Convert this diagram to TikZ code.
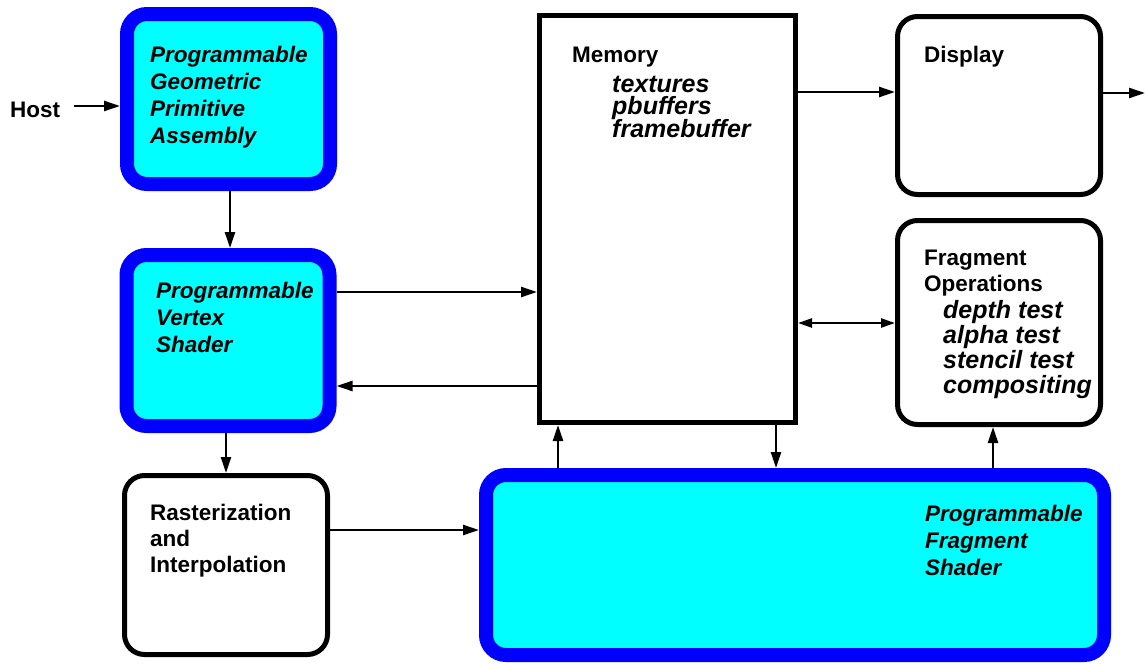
\documentclass[tikz,border=0pt]{standalone}
\usepackage{fontspec}
\setmainfont{Liberation Sans}
\usetikzlibrary{arrows.meta}
\definecolor{cy}{RGB}{0,255,255}
\definecolor{bl}{RGB}{0,0,255}
\begin{document}
\begin{tikzpicture}[x=1pt,y=-1pt,
  blubox/.style={draw=bl, fill=cy, line width=14pt, rounded corners=20pt, inner sep=0pt},
  blkbox/.style={draw=black, fill=white, line width=5pt, rounded corners=20pt, inner sep=0pt},
  membox/.style={draw=black, fill=white, line width=5pt, inner sep=0pt},
  arr/.style={-{Triangle[length=16pt,width=10pt]}, line width=2.4pt},
  darr/.style={{Triangle[length=14pt,width=9pt]}-{Triangle[length=14pt,width=9pt]}, line width=2.4pt},
  lb/.style={anchor=base west, inner sep=0pt, font=\fontsize{22.5}{27}\selectfont\bfseries},
  li/.style={anchor=base west, inner sep=0pt, font=\fontsize{22.5}{27}\selectfont\bfseries\itshape},
  ls/.style={anchor=base west, inner sep=0pt, font=\fontsize{25}{25}\selectfont\bfseries\itshape}]
\useasboundingbox (0,0) rectangle (1145,664);

% boxes
\node[blubox, minimum width=203pt, minimum height=170pt] (pgpa) at (228.5,99) {};
\node[blubox, minimum width=203pt, minimum height=171pt] (pvs) at (228,340.5) {};
\node[blkbox, minimum width=203pt, minimum height=179pt] (rast) at (226,565) {};
\node[membox, minimum width=256pt, minimum height=407pt] (mem) at (667.5,219) {};
\node[blkbox, minimum width=203pt, minimum height=178pt] (disp) at (999,105.5) {};
\node[blkbox, minimum width=203pt, minimum height=204pt] (frag) at (999,322.5) {};
\node[blubox, minimum width=618pt, minimum height=180pt] (pfs) at (795,565) {};

% texts
\node[lb] (host) at (10,117) {Host};

\node[li] (g1) at (150,62) {Programmable};
\node[li] (g2) at (150,89) {Geometric};
\node[li] (g3) at (150,116) {Primitive};
\node[li] (g4) at (150,143) {Assembly};

\node[li] (v1) at (156,298) {Programmable};
\node[li] (v2) at (156,325) {Vertex};
\node[li] (v3) at (156,352) {Shader};

\node[lb] (r1) at (150,520) {Rasterization};
\node[lb] (r2) at (150,546) {and};
\node[lb] (r3) at (150,572) {Interpolation};

\node[lb] (m0) at (572,62) {Memory};
\node[ls] (m1) at (612,92) {textures};
\node[ls] (m2) at (612,114.5) {pbuffers};
\node[ls] (m3) at (612,137) {framebuffer};

\node[lb] (d0) at (924,62) {Display};

\node[lb] (f1) at (924,265) {Fragment};
\node[lb] (f2) at (924,291) {Operations};
\node[ls] (f3) at (943,318) {depth test};
\node[ls] (f4) at (943,343) {alpha test};
\node[ls] (f5) at (943,368) {stencil test};
\node[ls] (f6) at (943,393) {compositing};

\node[li] (p1) at (925,521) {Programmable};
\node[li] (p2) at (925,548) {Fragment};
\node[li] (p3) at (925,575) {Shader};

% connectors
\coordinate (hs) at (74,106);
\coordinate (dout) at (1145,93);
\draw[arr] (hs) -- (hs -| pgpa.west);
\draw[arr] (pgpa.south -| 230,0) -- (pvs.north -| 230,0);
\draw[arr] (pvs.south -| rast.north) -- (rast.north);
\draw[arr] (pvs.east |- 0,292) -- (mem.west |- 0,292);
\draw[arr] (mem.west |- 0,386) -- (pvs.east |- 0,386);
\draw[arr] (mem.east |- 0,92) -- (disp.west |- 0,92);
\draw[arr] (disp.east |- dout) -- (dout);
\draw[darr] (mem.east |- 0,323) -- (frag.west |- 0,323);
\draw[arr] (pfs.north -| 558,0) -- (mem.south -| 558,0);
\draw[arr] (mem.south -| 776,0) -- (pfs.north -| 776,0);
\draw[arr] (rast.east |- 0,530) -- (pfs.west |- 0,530);
\draw[arr] (pfs.north -| 993,0) -- (frag.south -| 993,0);
\end{tikzpicture}
\end{document}
